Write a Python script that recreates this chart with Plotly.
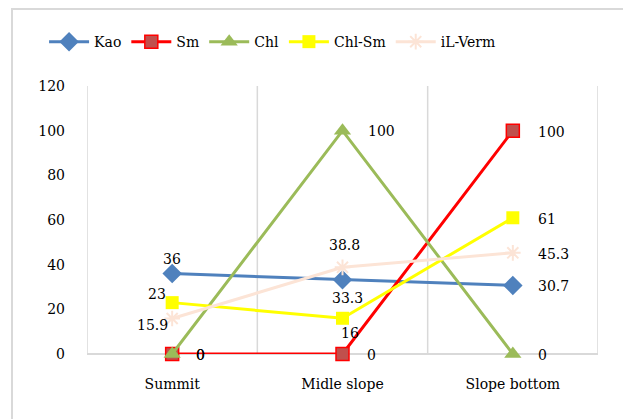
import plotly.graph_objects as go

# Sampling positions along the slope
categories = ["Summit", "Midle slope", "Slope bottom"]

# Clay mineral abundances (%)
kao = [36, 33.3, 30.7]
sm = [0, 0, 100]
chl = [0, 100, 0]
chl_sm = [23, 16, 61]
il_verm = [15.9, 38.8, 45.3]

y_ticks = [0, 20, 40, 60, 80, 100, 120]

FONT = "DejaVu Serif"
FS = 14
xpos = list(range(len(categories)))

RIGHT = ("left", 23, -1)  # label to the right of the point

series = [
    dict(name="Kao", y=kao, color="#4F81BD",
         marker=dict(symbol="diamond", size=15, color="#4F81BD"),
         labels=[("center", 0, 15), ("center", 5, -18), RIGHT]),
    dict(name="Sm", y=sm, color="#FF0000",
         marker=dict(symbol="square", size=13, color="#C0504D",
                     line=dict(color="#FF0000", width=1.5)),
         labels=[("left", 22, -1), ("left", 22, -1), RIGHT]),
    dict(name="Chl", y=chl, color="#9BBB59",
         marker=dict(symbol="triangle-up", size=15, color="#9BBB59"),
         labels=[("left", 22, -1), ("left", 23, 0), RIGHT]),
    dict(name="Chl-Sm", y=chl_sm, color="#FFFF00",
         marker=dict(symbol="square", size=13, color="#FFFF00"),
         labels=[("center", -15, 9), ("center", 7, -15), RIGHT]),
    dict(name="iL-Verm", y=il_verm, color="#FCE4D6",
         marker=dict(symbol="asterisk-open", size=13,
                     line=dict(color="#FCE4D6", width=2)),
         labels=[("center", -20, -7), ("center", 2, 22), RIGHT]),
]

fig = go.Figure()
annotations = []
for s in series:
    fig.add_trace(go.Scatter(
        x=xpos, y=s["y"], name=s["name"], mode="lines+markers",
        line=dict(color=s["color"], width=3),
        marker=s["marker"],
        cliponaxis=False,
    ))
    for xi, v, (anchor, dx, dy) in zip(xpos, s["y"], s["labels"]):
        annotations.append(dict(
            x=xi, y=v, xref="x", yref="y", text=f"{v:g}", showarrow=False,
            xanchor=anchor, yanchor="middle", xshift=dx, yshift=dy,
            font=dict(family=FONT, size=FS, color="#000000"),
        ))

# Vertical separators between categories
shapes = []
for xv in [-0.5, 0.5, 1.5, 2.5]:
    shapes.append(dict(type="line", xref="x", yref="paper", x0=xv, x1=xv,
                       y0=0, y1=1, line=dict(color="#D9D9D9", width=1.5),
                       layer="below"))
# Chart frame
shapes.append(dict(type="rect", xref="paper", yref="paper",
                   x0=-0.1468, x1=1.3, y0=-1.0, y1=1.287,
                   line=dict(color="#D9D9D9", width=2), layer="below"))

fig.update_layout(
    width=623, height=419,
    margin=dict(l=87, r=25, t=86, b=65),
    paper_bgcolor="white", plot_bgcolor="white",
    font=dict(family=FONT, size=FS, color="#000000"),
    showlegend=True,
    legend=dict(orientation="h", x=-0.084, xanchor="left", y=1.164,
                yanchor="middle", font=dict(family=FONT, size=FS),
                bgcolor="rgba(0,0,0,0)", itemwidth=40),
    shapes=shapes,
    annotations=annotations,
    xaxis=dict(range=[-0.5, 2.5], tickvals=xpos, ticktext=categories,
               showgrid=False, zeroline=False, showline=False, ticks="",
               ticklabelstandoff=20, fixedrange=True),
    yaxis=dict(range=[0, 120], tickvals=y_ticks, showgrid=False,
               zeroline=True, zerolinecolor="#D9D9D9", zerolinewidth=1.5,
               showline=False, ticks="", ticklabelstandoff=21),
)

fig.write_html("out.html")
